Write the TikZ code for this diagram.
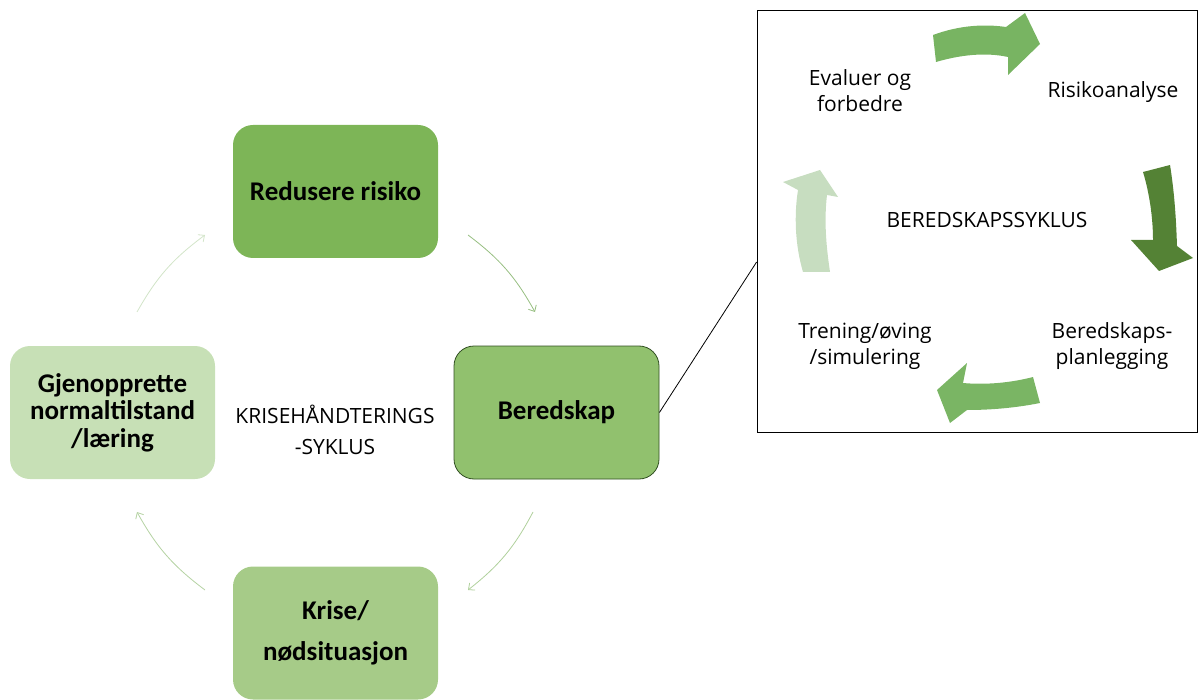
\documentclass[tikz,border=0pt]{standalone}
\usepackage{fontspec}
\setmainfont{Open Sans}
\newfontfamily\boxfont{Carlito}
\usepackage{tikz}
\usetikzlibrary{arrows.meta}

\definecolor{fasemork}{RGB}{125,181,87}
\definecolor{fasemid}{RGB}{145,193,110}
\definecolor{faselys}{RGB}{166,203,136}
\definecolor{faseblek}{RGB}{199,224,182}
\definecolor{kantgronn}{RGB}{50,80,35}
\definecolor{pilA}{RGB}{120,180,98}
\definecolor{pilB}{RGB}{84,130,53}
\definecolor{pilC}{RGB}{122,181,100}
\definecolor{pilD}{RGB}{199,221,192}

\tikzset{
  fase/.style={rounded corners=20pt, minimum width=205pt, minimum height=133pt,
    inner sep=0pt, align=center, font=\boxfont\bfseries\fontsize{27}{27.5}\selectfont},
  tynnpil/.style={-{Straight Barb[length=5pt,width=9pt]}, line width=0.8pt, bend left=12},
  steg/.style={align=center, font=\fontsize{21}{26}\selectfont},
}

\begin{document}
\begin{tikzpicture}[x=1pt,y=-1pt]
  \useasboundingbox (0,0) rectangle (1198,700);

  % krisehaandteringssyklus
  \node[fase, fill=fasemork] (reduser) at (335.5,191.5) {Redusere risiko};
  \node[fase, fill=fasemid, draw=kantgronn, line width=0.8pt] (beredskap) at (556.5,412.5) {Beredskap};
  \node[fase, fill=faselys] (krise) at (335.5,633) {Krise/\\[14pt]nødsituasjon};
  \node[fase, fill=faseblek] (gjenopprett) at (112.5,412.5) {Gjenopprette\\normaltilstand\\/læring};
  \node[align=center, font=\fontsize{21}{31}\selectfont] (krisetekst) at (335,430) {KRISEHÅNDTERINGS\\-SYKLUS};

  \coordinate (p1a) at (468,235);  \coordinate (p1b) at (535,312);
  \coordinate (p2a) at (533,512);  \coordinate (p2b) at (468,590);
  \coordinate (p3a) at (205,590);  \coordinate (p3b) at (137,512);
  \coordinate (p4a) at (137,312);  \coordinate (p4b) at (205,235);
  \draw[tynnpil, draw={rgb,255:red,150;green,190;blue,128}] (p1a) to (p1b);
  \draw[tynnpil, draw={rgb,255:red,175;green,208;blue,155}] (p2a) to (p2b);
  \draw[tynnpil, draw={rgb,255:red,180;green,210;blue,162}] (p3a) to (p3b);
  \draw[tynnpil, draw={rgb,255:red,210;green,228;blue,200}] (p4a) to (p4b);

  % beredskapssyklus
  \node[draw, line width=0.8pt, minimum width=440pt, minimum height=422pt, inner sep=0pt] (ramme) at (977,221) {};
  \draw[line width=0.8pt] (beredskap.east) -- ([yshift=-41pt]ramme.west);

  \node[steg] (evaluer) at (860,91) {Evaluer og\\forbedre};
  \node[steg] (risiko) at (1113,92) {Risikoanalyse};
  \node[steg] (syklus) at (987,220) {BEREDSKAPSSYKLUS};
  \node[steg] (planlegging) at (1112,346) {Beredskaps-\\planlegging};
  \node[steg] (trening) at (865,346) {Trening/øving\\/simulering};

  \fill[pilA] (933,35) .. controls (960,25) and (985,24) .. (1006,27) -- (1025,13) -- (1040,44)
    -- (1008,75) -- (1008,57) .. controls (985,52) and (960,55) .. (936,62) -- cycle;
  \fill[pilB] (1143,172) .. controls (1150,195) and (1153,220) .. (1153,240) -- (1131,240)
    -- (1159,271) -- (1193,258) -- (1177,246) .. controls (1176,215) and (1174,190) .. (1170,165) -- cycle;
  \fill[pilC] (1033,377) .. controls (1010,383) and (985,385) .. (963,383) -- (967,363) -- (937,390)
    -- (950,423) -- (967,410) .. controls (990,410) and (1015,408) .. (1040,403) -- cycle;
  \fill[pilD] (803,272) .. controls (795,245) and (794,215) .. (798,190) -- (783,182) -- (820,170)
    -- (838,197) -- (827,195) .. controls (824,220) and (826,245) .. (830,272) -- cycle;
\end{tikzpicture}
\end{document}
